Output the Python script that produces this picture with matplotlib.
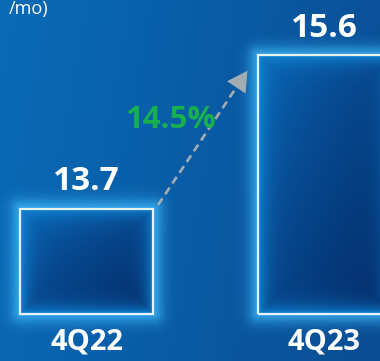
import numpy as np
import matplotlib.pyplot as plt
from matplotlib.colors import to_rgb

# dados do grafico
quarters = ['4Q22', '4Q23']
values = [13.7, 15.6]
growth_label = '14.5%'
unit_label = '/mo)'

base = 12.4  # eixo nao comeca em zero
W, H = 380, 361

plt.rcParams['font.family'] = ['Open Sans', 'Lato', 'DejaVu Sans']

fig = plt.figure(figsize=(W / 100, H / 100), dpi=100)
ax = fig.add_axes([0, 0, 1, 1])
xlim = (-0.3634, 1.2332)
ylim = (11.82, 16.286)
ax.set_xlim(xlim)
ax.set_ylim(ylim)
ax.axis('off')


def lerp(c0, c1, t):
    c0 = np.array(to_rgb(c0))
    c1 = np.array(to_rgb(c1))
    return c0 * (1 - t[..., None]) + c1 * t[..., None]


# fundo em degrade
yy, xx = np.mgrid[0:1:H * 1j, 0:1:W * 1j]
bg = lerp('#0a6bb7', '#0a4d93', np.clip(xx * 0.85 + yy * 0.15, 0, 1))
ax.imshow(bg, extent=[*xlim, *ylim], aspect='auto', origin='upper', zorder=0)

# barras
bars = ax.bar(range(len(values)), [v - base for v in values], bottom=base, width=0.559,
              facecolor='none', edgecolor='#e6f3ff', linewidth=1.6, zorder=5)
ax.set_xlim(xlim)
ax.set_ylim(ylim)

pxx = W / (xlim[1] - xlim[0])  # pixels por unidade
pxy = H / (ylim[1] - ylim[0])

for b in bars:
    x0, y0 = b.get_x(), b.get_y()
    x1, y1 = x0 + b.get_width(), y0 + b.get_height()

    # brilho externo
    g = 26
    gx0, gx1 = x0 - g / pxx, x1 + g / pxx
    gy0, gy1 = y0 - g / pxy, y1 + g / pxy
    nx = int((gx1 - gx0) * pxx)
    ny = int((gy1 - gy0) * pxy)
    X, Y = np.meshgrid(np.linspace(gx0, gx1, nx), np.linspace(gy1, gy0, ny))
    dx = np.maximum(np.maximum(x0 - X, X - x1), 0) * pxx
    dy = np.maximum(np.maximum(y0 - Y, Y - y1), 0) * pxy
    d = np.sqrt(dx ** 2 + dy ** 2)
    glow = np.zeros((ny, nx, 4))
    glow[..., :3] = to_rgb('#3ab0f2')
    glow[..., 3] = 0.85 * np.exp(-(d / 10.0) ** 1.6)
    ax.imshow(glow, extent=[gx0, gx1, gy0, gy1], aspect='auto', origin='upper', zorder=2)

    # preenchimento
    nx = int((x1 - x0) * pxx)
    ny = int((y1 - y0) * pxy)
    X, Y = np.meshgrid(np.linspace(x0, x1, nx), np.linspace(y1, y0, ny))
    tx = (X - x0) / (x1 - x0)
    ty = (y1 - Y) / (y1 - y0)
    fill = lerp('#0a6cbc', '#042a68', np.clip(tx * 0.5 + ty * 0.5, 0, 1) ** 0.7)
    e = np.minimum.reduce([(X - x0) * pxx, (x1 - X) * pxx, (Y - y0) * pxy, (y1 - Y) * pxy])
    w = np.exp(-e / 8.0)[..., None]
    fill = fill * (1 - w) + np.array(to_rgb('#1286d6')) * w
    ax.imshow(fill, extent=[x0, x1, y0, y1], aspect='auto', origin='upper', zorder=3)

    ax.annotate('%.1f' % (y1), (b.get_x() + b.get_width() / 2, y1), xytext=(0, 13.5),
                textcoords='offset points', ha='center', va='baseline',
                fontsize=24, fontweight='bold', color='white', zorder=6)

for i, q in enumerate(quarters):
    ax.annotate(q, (i, base), xytext=(0, -25.2), textcoords='offset points',
                ha='center', va='baseline', fontsize=21, fontweight='bold',
                color='white', zorder=6)

# seta tracejada
b0, b1 = bars[0], bars[1]
p0 = (b0.get_x() + b0.get_width() + 5 / pxx, values[0] + 4 / pxy)
p1 = (b1.get_x() - 13 / pxx, values[1] - 19 / pxy)
ax.plot([p0[0], p1[0]], [p0[1], p1[1]], color='#a3abb3', lw=1.9,
        dashes=(3, 1.9), zorder=7)
tip = (b1.get_x() - 9 / pxx, values[1] - 13 / pxy)
ax.annotate('', xy=tip, xytext=(p1[0] - 6 / pxx, p1[1] - 9 / pxy),
            arrowprops=dict(arrowstyle='-|>,head_length=0.9,head_width=0.5',
                            color='#a3abb3', lw=0, mutation_scale=16), zorder=7)

mid = ((p0[0] + tip[0]) / 2, (p0[1] + tip[1]) / 2)
ax.annotate(growth_label, mid, xytext=(-24, 12), textcoords='offset points',
            ha='center', va='center', fontsize=22.5, fontweight='bold',
            color='#17b04f', zorder=8)

fig.text(48 / W, 1 - 14 / H, unit_label, ha='right', va='baseline',
         fontsize=13, color='white')

fig.savefig('out.png', dpi=100)
